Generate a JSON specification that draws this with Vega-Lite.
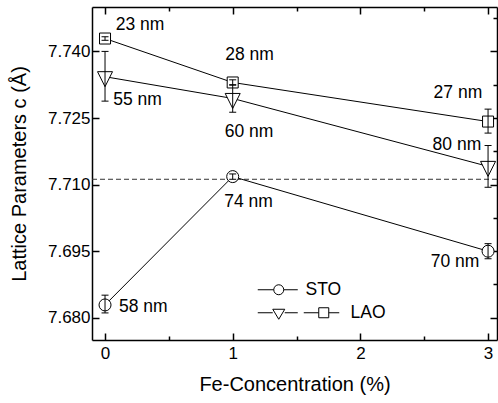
{
  "$schema": "https://vega.github.io/schema/vega-lite/v6.json",
  "width": 405,
  "height": 333,
  "autosize": "none",
  "padding": {"left": 92, "top": 7, "right": 1, "bottom": 63},
  "background": "white",
  "view": {"stroke": null},
  "config": {
    "font": "Liberation Sans",
    "axis": {
      "domainColor": "black", "domainWidth": 1.5,
      "tickColor": "black", "tickWidth": 1.5,
      "labelFont": "Liberation Sans", "labelFontSize": 17, "labelColor": "black",
      "labelOverlap": false, "labelFlush": false,
      "titleFont": "Liberation Sans", "titleFontSize": 20, "titleFontWeight": "normal", "titleColor": "black",
      "grid": false
    },
    "legend": {
      "orient": "none", "title": null, "padding": 0,
      "labelFont": "Liberation Sans", "labelFontSize": 17.5, "labelColor": "black",
      "symbolSize": 100, "symbolStrokeWidth": 1, "symbolStrokeColor": "black", "symbolOpacity": 1
    }
  },
  "datasets": {
    "pts": [
      {"series": "STO", "x": 0, "y": 7.6829, "lo": 7.6811, "hi": 7.6851},
      {"series": "STO", "x": 1, "y": 7.7118, "lo": 7.7112, "hi": 7.7124},
      {"series": "STO", "x": 3, "y": 7.6950, "lo": 7.6933, "hi": 7.6967},
      {"series": "LAO-T", "x": 0, "y": 7.7343, "lo": 7.7288, "hi": 7.7400},
      {"series": "LAO-T", "x": 1, "y": 7.7294, "lo": 7.7263, "hi": 7.7325},
      {"series": "LAO-T", "x": 3, "y": 7.7141, "lo": 7.7094, "hi": 7.7188},
      {"series": "LAO-S", "x": 0, "y": 7.7429, "lo": 7.7425, "hi": 7.7433},
      {"series": "LAO-S", "x": 1, "y": 7.7330, "lo": 7.7324, "hi": 7.7336},
      {"series": "LAO-S", "x": 3, "y": 7.7242, "lo": 7.7216, "hi": 7.7270}
    ],
    "labels": [
      {"x": 0.274, "y": 7.7459, "label": "23 nm"},
      {"x": 1.132, "y": 7.7391, "label": "28 nm"},
      {"x": 2.764, "y": 7.7306, "label": "27 nm"},
      {"x": 0.255, "y": 7.7290, "label": "55 nm"},
      {"x": 1.128, "y": 7.7218, "label": "60 nm"},
      {"x": 2.756, "y": 7.7189, "label": "80 nm"},
      {"x": 1.124, "y": 7.7060, "label": "74 nm"},
      {"x": 0.300, "y": 7.6825, "label": "58 nm"},
      {"x": 2.741, "y": 7.6926, "label": "70 nm"}
    ],
    "legSTO": [{"leg": "STO"}],
    "legLAO": [{"leg": "LAO"}],
    "ref": [{"y": 7.7112}]
  },
  "layer": [
    {
      "layer": [
        {
          "data": {"name": "ref"},
          "mark": {"type": "rule", "stroke": "#333333", "strokeWidth": 1, "strokeDash": [5, 3]},
          "encoding": {
            "y": {"field": "y", "type": "quantitative", "scale": {"domain": [7.675, 7.75], "nice": false, "zero": false},
              "axis": {
                "orient": "left",
                "values": [7.68, 7.6875, 7.695, 7.7025, 7.71, 7.7175, 7.725, 7.7325, 7.74, 7.7475],
                "labelExpr": "round(datum.value*10000) % 150 === 0 ? format(datum.value, '.3f') : ''",
                "tickSize": {"condition": {"test": "round(datum.value*10000) % 150 === 0", "value": -7}, "value": -4},
                "labelPadding": 9,
                "title": "Lattice Parameters c (Å)",
                "titlePadding": 18
              }
            }
          }
        },
        {
          "data": {"name": "pts"},
          "mark": {"type": "line", "stroke": "black", "strokeWidth": 1},
          "encoding": {
            "x": {"field": "x", "type": "quantitative", "scale": {"domain": [-0.102, 3.07], "nice": false, "zero": false},
              "axis": {
                "orient": "bottom",
                "values": [0, 0.5, 1, 1.5, 2, 2.5, 3],
                "labelExpr": "datum.value % 1 === 0 ? format(datum.value, 'd') : ''",
                "tickSize": {"condition": {"test": "datum.value % 1 === 0", "value": -7}, "value": -4},
                "labelPadding": 12,
                "title": "Fe-Concentration (%)",
                "titlePadding": 10
              }
            },
            "y": {"field": "y", "type": "quantitative"},
            "detail": {"field": "series"},
            "order": {"field": "x"}
          }
        },
        {
          "data": {"name": "pts"},
          "transform": [{"filter": "datum.series === 'STO'"}],
          "mark": {"type": "point", "shape": "circle", "size": 144, "filled": true, "fill": "white", "stroke": "black", "strokeWidth": 1, "opacity": 1},
          "encoding": {"x": {"field": "x", "type": "quantitative"}, "y": {"field": "y", "type": "quantitative"}}
        },
        {
          "data": {"name": "pts"},
          "transform": [{"filter": "datum.series === 'LAO-T'"}],
          "mark": {"type": "point", "shape": "M-1,-0.67L1,-0.67L0,1.33Z", "size": 225, "filled": true, "fill": "white", "stroke": "black", "strokeWidth": 1, "opacity": 1},
          "encoding": {"x": {"field": "x", "type": "quantitative"}, "y": {"field": "y", "type": "quantitative"}}
        },
        {
          "data": {"name": "pts"},
          "transform": [{"filter": "datum.series === 'LAO-S'"}],
          "mark": {"type": "point", "shape": "square", "size": 121, "filled": true, "fill": "white", "stroke": "black", "strokeWidth": 1, "opacity": 1},
          "encoding": {"x": {"field": "x", "type": "quantitative"}, "y": {"field": "y", "type": "quantitative"}}
        },
        {
          "data": {"name": "pts"},
          "mark": {"type": "rule", "stroke": "black", "strokeWidth": 1},
          "encoding": {
            "x": {"field": "x", "type": "quantitative"},
            "y": {"field": "lo", "type": "quantitative"},
            "y2": {"field": "hi"}
          }
        },
        {
          "data": {"name": "pts"},
          "mark": {"type": "tick", "orient": "horizontal", "size": 7, "thickness": 1, "color": "black", "opacity": 1},
          "encoding": {
            "x": {"field": "x", "type": "quantitative"},
            "y": {"field": "lo", "type": "quantitative"}
          }
        },
        {
          "data": {"name": "pts"},
          "mark": {"type": "tick", "orient": "horizontal", "size": 7, "thickness": 1, "color": "black", "opacity": 1},
          "encoding": {
            "x": {"field": "x", "type": "quantitative"},
            "y": {"field": "hi", "type": "quantitative"}
          }
        },
        {
          "data": {"name": "labels"},
          "mark": {"type": "text", "font": "Liberation Sans", "fontSize": 17.5, "align": "center", "baseline": "middle", "fill": "black"},
          "encoding": {
            "x": {"field": "x", "type": "quantitative"},
            "y": {"field": "y", "type": "quantitative"},
            "text": {"field": "label"}
          }
        },
        {
          "data": {"name": "legSTO"},
          "mark": {"type": "point", "size": 100, "filled": false, "color": "black", "strokeWidth": 1, "opacity": 1, "clip": true},
          "encoding": {
            "x": {"datum": -1, "type": "quantitative"},
            "y": {"datum": 7.70, "type": "quantitative"},
            "shape": {
              "field": "leg", "type": "nominal",
              "scale": {
                "domain": ["STO"],
                "range": ["M-4.2,0L-1,0M1,0L3.8,0M1,0A1,1,0,1,1,-1,0A1,1,0,1,1,1,0Z"]
              },
              "legend": {"orient": "none", "legendX": 178, "legendY": 274, "labelOffset": 18}
            }
          }
        },
        {
          "data": {"name": "legLAO"},
          "mark": {"type": "point", "size": 100, "filled": false, "color": "black", "strokeWidth": 1, "opacity": 1, "clip": true},
          "encoding": {
            "x": {"datum": -1, "type": "quantitative"},
            "y": {"datum": 7.70, "type": "quantitative"},
            "shape": {
              "field": "leg", "type": "nominal",
              "scale": {
                "domain": ["LAO"],
                "range": ["M-4.2,0L-1.2,0M1.2,0L3.8,0M-1.2,-0.7L1.2,-0.7L0,1.3ZM5,0L8,0M10,0L12.1,0M8,-1L10,-1L10,1L8,1Z"]
              },
              "legend": {"orient": "none", "legendX": 178, "legendY": 297, "labelOffset": 63}
            }
          }
        }
      ],
      "resolve": {"scale": {"shape": "independent"}}
    },
    {
      "data": {"name": "pts"},
      "mark": {"type": "point", "opacity": 0},
      "encoding": {
        "x": {"field": "x", "type": "quantitative",
          "axis": {
            "orient": "top",
            "values": [0, 0.5, 1, 1.5, 2, 2.5, 3],
            "labels": false,
            "title": null,
            "tickSize": {"condition": {"test": "datum.value % 1 === 0", "value": -7}, "value": -4}
          }
        },
        "y": {"field": "y", "type": "quantitative",
          "axis": {
            "orient": "right",
            "values": [7.68, 7.6875, 7.695, 7.7025, 7.71, 7.7175, 7.725, 7.7325, 7.74, 7.7475],
            "labels": false,
            "title": null,
            "tickSize": {"condition": {"test": "round(datum.value*10000) % 150 === 0", "value": -7}, "value": -4}
          }
        }
      }
    }
  ],
  "resolve": {"axis": {"x": "independent", "y": "independent"}}
}
